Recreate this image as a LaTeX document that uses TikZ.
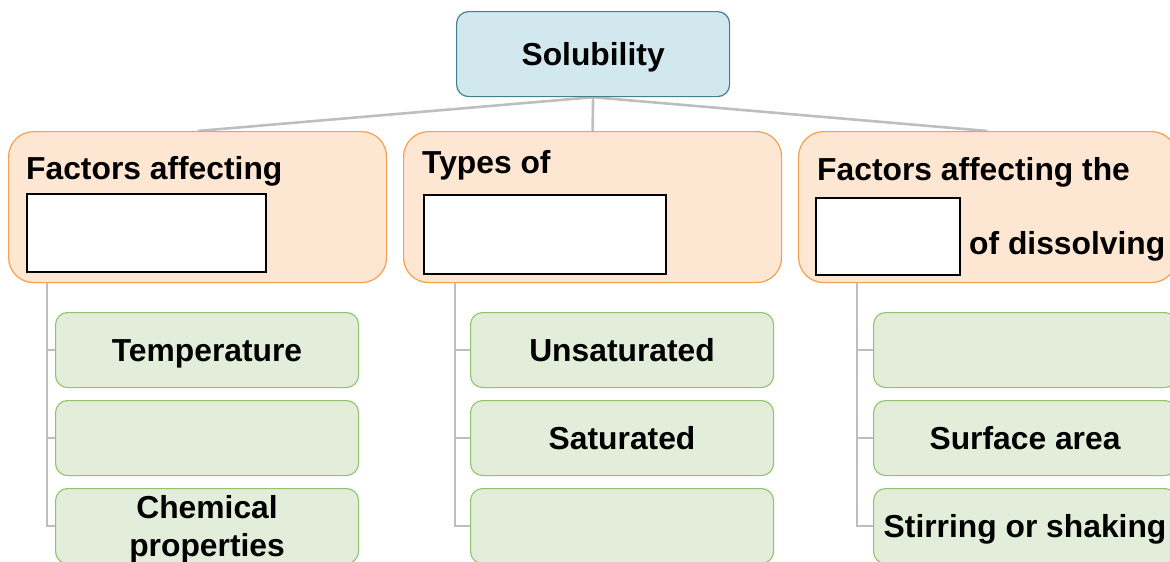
\documentclass[tikz,border=0pt]{standalone}
\usepackage{fontspec}
\setmainfont{Liberation Sans}
\usetikzlibrary{backgrounds}
\definecolor{topfill}{HTML}{D2E8EF}
\definecolor{topline}{HTML}{41808F}
\definecolor{orfill}{HTML}{FDE6D2}
\definecolor{orline}{HTML}{F5A050}
\definecolor{grfill}{HTML}{E3EEDA}
\definecolor{grline}{HTML}{93C26C}
\definecolor{connc}{HTML}{BEBEBE}
\begin{document}
\begin{tikzpicture}[x=1pt,y=-1pt,
  txt/.style={font=\bfseries\fontsize{31.8}{38}\selectfont, inner sep=0pt},
  ctxt/.style={txt, text height=22.8pt, text depth=0pt},
  topbox/.style={draw=topline, fill=topfill, line width=1.2pt, rounded corners=12pt, inner sep=0pt, anchor=north west, minimum width=273pt, minimum height=85pt, ctxt},
  orbox/.style={draw=orline, fill=orfill, line width=1.2pt, rounded corners=25pt, inner sep=0pt, anchor=north west, minimum width=378pt, minimum height=151pt},
  blank/.style={draw=black, fill=white, line width=2.2pt, inner sep=0pt, anchor=north west},
  grbox/.style={draw=grline, fill=grfill, line width=1.1pt, rounded corners=12pt, inner sep=0pt, anchor=north west, minimum width=303pt, minimum height=75pt, ctxt, align=center},
  conn/.style={draw=connc, line width=2.6pt}
]
\useasboundingbox (0,0) rectangle (1170,562);
\clip (0,0) rectangle (1170,562);

% top node
\node[topbox] (top) at (456,11) {Solubility};

% orange boxes
\node[orbox] (o1) at (8,131) {};
\node[orbox] (o2) at (403,131) {};
\node[orbox] (o3) at (798,131) {};

% orange texts
\node[txt, anchor=base west] (l1) at (26,179) {Factors affecting};
\node[blank, minimum width=239pt, minimum height=78pt] (b1) at (26,193) {};
\node[txt, anchor=base west] (l2) at (422,173) {Types of};
\node[blank, minimum width=242pt, minimum height=79pt] (b2) at (423,194) {};
\node[txt, anchor=base west] (l3) at (817,180) {Factors affecting the};
\node[blank, minimum width=144pt, minimum height=77pt] (b3) at (815,197) {};
\node[txt, anchor=base west] (l4) at (969,254) {of dissolving};

% green boxes
\node[grbox] (g11) at (55,312) {Temperature};
\node[grbox] (g12) at (55,400) {};
\node[grbox, text height=60.8pt] (g13) at (55,488) {Chemical\\properties};
\node[grbox] (g21) at (470,312) {Unsaturated};
\node[grbox] (g22) at (470,400) {Saturated};
\node[grbox] (g23) at (470,488) {};
\node[grbox] (g31) at (873,312) {};
\node[grbox] (g32) at (873,400) {Surface area};
\node[grbox] (g33) at (873,488) {Stirring or shaking};

\begin{scope}[on background layer]
% connectors from top
\draw[conn] (top.south) -- (o1.north);
\draw[conn] (top.south) -- (o3.north);
\draw[conn] (top.south) -- (o2.north);
% tree connectors
\coordinate (c1) at (47,282);
\coordinate (c2) at (455,282);
\coordinate (c3) at (857,282);
\draw[conn] (c1) |- (g13.west);
\draw[conn] (c1 |- g11.west) -- (g11.west);
\draw[conn] (c1 |- g12.west) -- (g12.west);
\draw[conn] (c2) |- (g23.west);
\draw[conn] (c2 |- g21.west) -- (g21.west);
\draw[conn] (c2 |- g22.west) -- (g22.west);
\draw[conn] (c3) |- (g33.west);
\draw[conn] (c3 |- g31.west) -- (g31.west);
\draw[conn] (c3 |- g32.west) -- (g32.west);
\end{scope}
\end{tikzpicture}
\end{document}
